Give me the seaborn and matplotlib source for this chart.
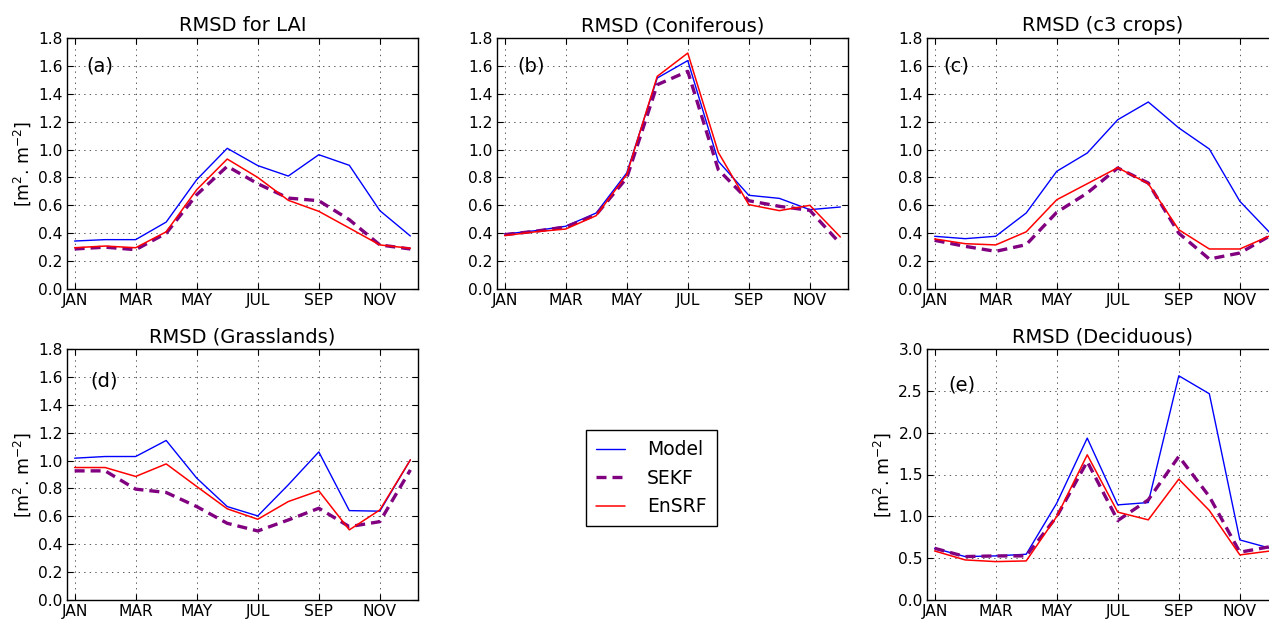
import numpy as np
import pandas as pd
import matplotlib
matplotlib.use("Agg")
import matplotlib.pyplot as plt
import seaborn as sns

months = ["JAN", "FEB", "MAR", "APR", "MAY", "JUN", "JUL", "AUG", "SEP", "OCT", "NOV", "DEC"]
tick_labels = ["JAN", "MAR", "MAY", "JUL", "SEP", "NOV"]
series_names = ["Model", "SEKF", "EnSRF"]

# Panel (a) RMSD for LAI
lai_model = [0.344, 0.354, 0.354, 0.48, 0.784, 1.009, 0.885, 0.81, 0.963, 0.887, 0.562, 0.38]
lai_sekf = [0.287, 0.30, 0.282, 0.40, 0.676, 0.88, 0.755, 0.652, 0.633, 0.497, 0.316, 0.287]
lai_ensrf = [0.296, 0.308, 0.296, 0.41, 0.712, 0.932, 0.80, 0.636, 0.557, 0.437, 0.316, 0.292]

# Panel (b) Coniferous
con_model = [0.394, 0.418, 0.45, 0.545, 0.832, 1.513, 1.638, 0.916, 0.672, 0.65, 0.569, 0.588]
con_sekf = [0.39, 0.414, 0.445, 0.533, 0.796, 1.465, 1.561, 0.856, 0.633, 0.593, 0.564, 0.325]
con_ensrf = [0.383, 0.41, 0.43, 0.526, 0.82, 1.525, 1.692, 0.98, 0.605, 0.562, 0.60, 0.373]

# Panel (c) c3 crops
c3_model = [0.378, 0.361, 0.378, 0.545, 0.844, 0.975, 1.214, 1.341, 1.155, 1.004, 0.629, 0.40]
c3_sekf = [0.349, 0.306, 0.27, 0.318, 0.55, 0.688, 0.868, 0.76, 0.40, 0.215, 0.258, 0.383]
c3_ensrf = [0.359, 0.325, 0.316, 0.41, 0.64, 0.755, 0.87, 0.755, 0.425, 0.287, 0.287, 0.383]

# Panel (d) Grasslands
gr_model = [1.017, 1.029, 1.029, 1.144, 0.874, 0.67, 0.603, 0.826, 1.062, 0.641, 0.637, 1.005]
gr_sekf = [0.926, 0.926, 0.795, 0.771, 0.67, 0.55, 0.495, 0.574, 0.658, 0.526, 0.562, 0.933]
gr_ensrf = [0.95, 0.95, 0.886, 0.976, 0.814, 0.654, 0.579, 0.706, 0.783, 0.503, 0.646, 1.005]

# Panel (e) Deciduous
de_model = [0.618, 0.519, 0.527, 0.547, 1.157, 1.935, 1.137, 1.165, 2.68, 2.465, 0.718, 0.618]
de_sekf = [0.618, 0.519, 0.527, 0.527, 0.997, 1.655, 0.95, 1.197, 1.716, 1.237, 0.571, 0.638]
de_ensrf = [0.586, 0.479, 0.459, 0.467, 0.997, 1.735, 1.05, 0.958, 1.445, 1.07, 0.539, 0.586]

sns.set_style("ticks")
plt.rcParams.update({
    "font.family": ["DejaVu Sans"],
    "mathtext.fontset": "dejavusans",
    "lines.scale_dashes": False,
    "xtick.direction": "in",
    "ytick.direction": "in",
    "xtick.top": True,
    "ytick.right": True,
    "xtick.major.size": 4,
    "ytick.major.size": 4,
    "axes.edgecolor": "black",
    "axes.linewidth": 1.0,
    "xtick.color": "black",
    "ytick.color": "black",
    "text.color": "black",
    "axes.labelcolor": "black",
    "axes.titlecolor": "black",
})

W, H = 1269, 622
fig = plt.figure(figsize=(W / 100, H / 100), dpi=100)
fig.patch.set_facecolor("white")

def rect(left, top, right, bottom):
    return [left / W, 1 - bottom / H, (right - left) / W, (bottom - top) / H]

panels = [
    ("RMSD for LAI", "(a)", lai_model, lai_sekf, lai_ensrf, rect(67, 38, 418, 289), 1.8, 0.2, True, (0.054, 0.888)),
    ("RMSD (Coniferous)", "(b)", con_model, con_sekf, con_ensrf, rect(497, 38, 848, 289), 1.8, 0.2, False, (0.057, 0.888)),
    ("RMSD (c3 crops)", "(c)", c3_model, c3_sekf, c3_ensrf, rect(927, 38, 1278, 289), 1.8, 0.2, False, (0.048, 0.888)),
    ("RMSD (Grasslands)", "(d)", gr_model, gr_sekf, gr_ensrf, rect(67, 349, 418, 600), 1.8, 0.2, True, (0.067, 0.872)),
    ("RMSD (Deciduous)", "(e)", de_model, de_sekf, de_ensrf, rect(927, 349, 1278, 600), 3.0, 0.5, True, (0.06, 0.857)),
]

styles = {
    "Model": dict(color="#0000ff", lw=1.0, linestyle="-"),
    "SEKF": dict(color="#800080", lw=2.4, linestyle=(0, (7.2, 4.3))),
    "EnSRF": dict(color="#ff0000", lw=1.1, linestyle="-"),
}

handles = None
for title, tag, m, s, e, pos, ymax, ystep, ylab, tagpos in panels:
    ax = fig.add_axes(pos)
    ax.set_facecolor("white")
    df = pd.DataFrame({"month": np.arange(12), "Model": m, "SEKF": s, "EnSRF": e})
    for name in series_names:
        sns.lineplot(data=df, x="month", y=name, ax=ax, label=name, **styles[name])
    leg = ax.get_legend()
    if leg is not None:
        leg.remove()
    if handles is None:
        handles = ax.get_lines()[:3]
    ax.set_xlim(-0.25, 11.25)
    ax.set_ylim(0, ymax)
    ax.set_xticks(np.arange(0, 12, 2))
    ax.set_xticklabels(tick_labels)
    ax.set_yticks(np.arange(0, ymax + 1e-9, ystep))
    ax.set_yticklabels([f"{v:.1f}" for v in np.arange(0, ymax + 1e-9, ystep)])
    ax.tick_params(labelsize=11.2, width=0.8, pad=3, colors="black")
    ax.grid(True, color="black", linestyle=(0, (1, 3)), linewidth=0.5, alpha=0.9)
    ax.set_axisbelow(True)
    ax.set_xlabel("")
    ax.set_ylabel("[m$^2$. m$^{-2}$]" if ylab else "", fontsize=12.5, color="black")
    ax.set_title(title, fontsize=14, pad=5, color="black")
    ax.text(tagpos[0], tagpos[1], tag, transform=ax.transAxes, fontsize=14,
            ha="left", va="center", color="black")
    for sp in ax.spines.values():
        sp.set_visible(True)
        sp.set_color("black")

fig.legend(handles, series_names, loc="upper left",
           bbox_to_anchor=(586 / W, 1 - 430 / H), borderaxespad=0,
           fontsize=13.5, frameon=True, fancybox=False, edgecolor="black",
           framealpha=1, handlelength=1.55, handletextpad=1.15,
           labelspacing=0.5, borderpad=0.55)

fig.savefig("out.png", dpi=100, facecolor="white")
